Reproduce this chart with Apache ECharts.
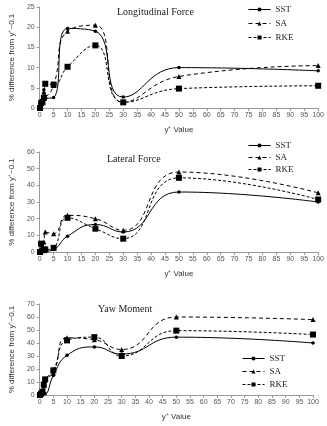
<!DOCTYPE html>
<html>
<head>
<meta charset="utf-8">
<script src="https://cdn.jsdelivr.net/npm/echarts@6/dist/echarts.min.js"></script>
<style>
html, body { margin: 0; padding: 0; background: #fff; }
#main { width: 327px; height: 426px; }
</style>
</head>
<body>
<div id="main"></div>
<script>
// y+ positions of the samples
var yPlus = [0.1, 0.5, 1, 1.5, 2, 5, 10, 20, 30, 50, 100];

// Longitudinal Force
var longSST = [0, 1.5, 2, 4.5, 2.4, 2.6, 19.7, 19, 2.7, 10, 9.2];
var longSA = [0, 1.5, 2, 4, 3, 5.6, 19, 20.5, 1.4, 7.8, 10.5];
var longRKE = [0, 1.2, 1.5, 2.5, 6, 5.8, 10.2, 15.5, 1.4, 4.8, 5.5];

// Lateral Force
var latSST = [0, 0.5, 0.5, 1, 0.5, 1.5, 9.5, 16.5, 12, 36, 30];
var latSA = [0, 5, 3, 6, 12, 11, 22, 20, 13, 48, 35.5];
var latRKE = [0, 5, 1, 1.5, 1.5, 2.5, 20.5, 14, 8, 44.5, 31.5];

// Yaw Moment
var yawSST = [0, 0.5, 1.5, 2, 1, 15, 30.5, 37, 31.5, 44.5, 40];
var yawSA = [0, 1, 3, 7, 12, 17, 44, 42.5, 35, 60, 58];
var yawRKE = [0, 1, 2.5, 8, 12, 19, 42, 44.5, 30, 49.5, 46.5];

var yMax = [25, 60, 70];
var yStep = [5, 10, 10];
var titles = ['Longitudinal Force', 'Lateral Force', 'Yaw Moment'];

var chart = echarts.init(document.getElementById('main'));

function pairs(vals) {
    var out = [];
    for (var i = 0; i < yPlus.length; i++) {
        out.push([yPlus[i], vals[i]]);
    }
    return out;
}

var grids = [
    {left: 34, right: 8, top: 7, height: 101},
    {left: 34, right: 8, top: 152, height: 100},
    {left: 36, right: 14, top: 304, height: 91}
];

var axisColor = '#9a9a9a';
var labelStyle = {fontSize: 7, color: '#555', fontFamily: 'Liberation Sans'};

var xAxes = [], yAxes = [], series = [], legends = [], titleList = [];
var sets = [[longSST, longSA, longRKE], [latSST, latSA, latRKE], [yawSST, yawSA, yawRKE]];
var titleLeft = [112, 102, 93];
var titleTop = [2, 149, 299];
var legendPos = [{left: 243, top: 0, gap: 5}, {left: 243, top: 136, gap: 3}, {left: 237, top: 349, gap: 4}];

for (var g = 0; g < 3; g++) {
    xAxes.push({
        gridIndex: g, type: 'value', min: 0, max: 100, interval: 5,
        name: 'y⁺ Value', nameLocation: 'middle', nameGap: 18,
        nameTextStyle: {fontSize: 8, color: '#333', fontFamily: 'Liberation Sans'},
        axisLine: {lineStyle: {color: axisColor}},
        axisTick: {length: 3, lineStyle: {color: axisColor}},
        axisLabel: Object.assign({margin: 4}, labelStyle),
        splitLine: {show: false}
    });
    yAxes.push({
        gridIndex: g, type: 'value', min: 0, max: yMax[g], interval: yStep[g],
        name: '% difference from y⁺~0.1', nameLocation: 'middle', nameGap: 23, nameRotate: 90,
        nameTextStyle: {fontSize: 8, color: '#333', fontFamily: 'Liberation Sans'},
        axisLine: {show: true, lineStyle: {color: axisColor}},
        axisTick: {show: true, length: 3, lineStyle: {color: axisColor}},
        axisLabel: Object.assign({margin: 5}, labelStyle),
        splitLine: {show: false}
    });
    titleList.push({
        text: titles[g], left: titleLeft[g], top: titleTop[g],
        textStyle: {fontSize: 10, fontWeight: 'normal', color: '#222', fontFamily: 'Liberation Serif'}
    });
    legends.push({
        data: ['SST', 'SA', 'RKE'], orient: 'vertical',
        left: legendPos[g].left, top: legendPos[g].top,
        itemWidth: 22, itemHeight: 5, itemGap: legendPos[g].gap,
        lineStyle: {width: 1},
        textStyle: {fontSize: 9, color: '#222', fontFamily: 'Liberation Serif'}
    });
    series.push({
        name: 'SST', type: 'line', xAxisIndex: g, yAxisIndex: g, smooth: 0.5,
        data: pairs(sets[g][0]), symbol: 'circle', symbolSize: 3.5,
        lineStyle: {color: '#000', width: 1, type: 'solid'},
        itemStyle: {color: '#000'}
    });
    series.push({
        name: 'SA', type: 'line', xAxisIndex: g, yAxisIndex: g, smooth: 0.5,
        data: pairs(sets[g][1]), symbol: 'triangle', symbolSize: 5,
        lineStyle: {color: '#000', width: 1, type: [4, 3]},
        itemStyle: {color: '#000'}
    });
    series.push({
        name: 'RKE', type: 'line', xAxisIndex: g, yAxisIndex: g, smooth: 0.5,
        data: pairs(sets[g][2]), symbol: 'rect', symbolSize: 6,
        lineStyle: {color: '#000', width: 1, type: [3, 2]},
        itemStyle: {color: '#000'}
    });
}

chart.setOption({
    animation: false,
    backgroundColor: '#fff',
    title: titleList,
    legend: legends,
    grid: grids,
    xAxis: xAxes,
    yAxis: yAxes,
    series: series
});
</script>
</body>
</html>
